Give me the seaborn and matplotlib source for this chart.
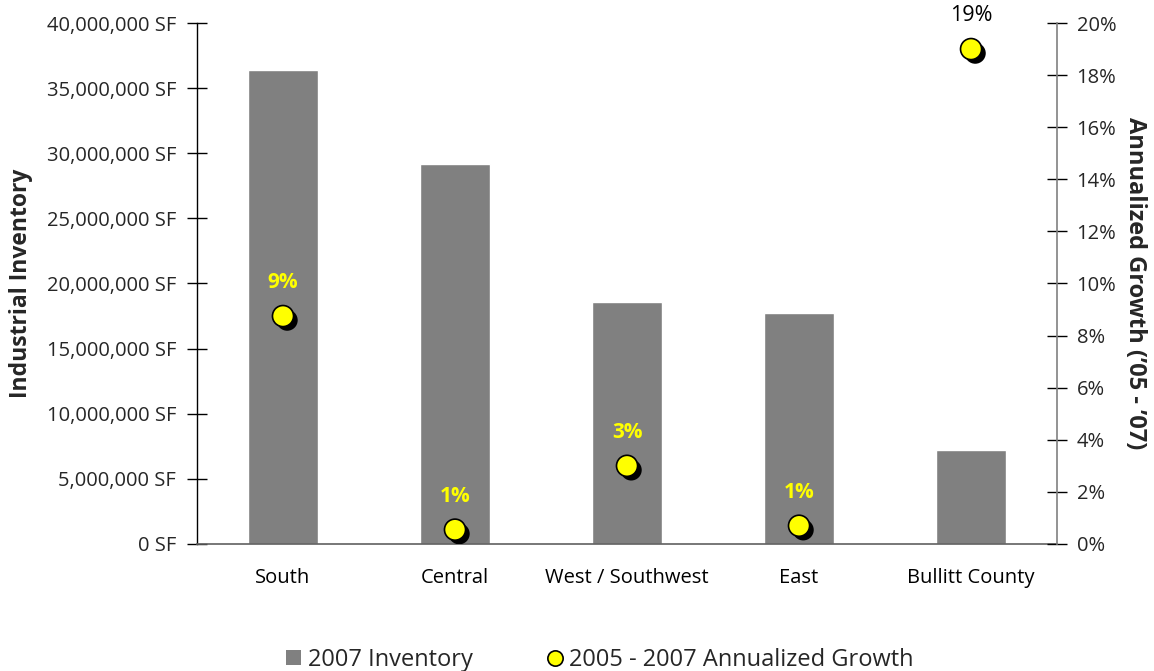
import matplotlib
matplotlib.use("Agg")
import matplotlib.pyplot as plt
import matplotlib.patheffects as pe
from matplotlib.ticker import FuncFormatter, MultipleLocator, FixedLocator
from matplotlib.lines import Line2D
from matplotlib.patches import Patch
import seaborn as sns
import pandas as pd
import numpy as np

# Submarket data
submarkets = ["South", "Central", "West / Southwest", "East", "Bullitt County"]
inventory_2007 = [36_400_000, 29_150_000, 18_600_000, 17_750_000, 7_250_000]
annual_growth = [8.75, 0.55, 3.0, 0.7, 19.0]
growth_labels = ["9%", "1%", "3%", "1%", "19%"]

sns.set_theme(style="white")
plt.rcParams["font.family"] = ["Open Sans", "DejaVu Sans"]

df = pd.DataFrame({"Submarket": submarkets,
                   "Inventory": inventory_2007,
                   "Growth": annual_growth})

fig = plt.figure(figsize=(11.54, 6.71), dpi=100)
ax = fig.add_axes([0.1707, 0.1893, 0.7453, 0.7764])

sns.barplot(data=df, x="Submarket", y="Inventory", color="#808080",
            saturation=1, width=0.41, ax=ax, order=submarkets)
ax.set_ylim(0, 40_000_000)
ax.set_xlim(-0.5, 4.5)
ax.yaxis.set_major_locator(MultipleLocator(5_000_000))
ax.yaxis.set_major_formatter(FuncFormatter(lambda v, p: f"{v:,.0f} SF"))
ax.set_xlabel("")
ax.set_ylabel("Industrial Inventory", fontsize=16.5, fontweight="bold", va="center")
ax.yaxis.set_label_coords(-0.2047, 0.5)

# category separators on the x axis
ax.xaxis.set_minor_locator(FixedLocator(np.arange(-0.5, 5, 1.0)))
ax.tick_params(axis="x", which="major", length=0, pad=17, labelsize=14.5, colors="black")
ax.tick_params(axis="x", which="minor", direction="inout", length=14, width=1, color="black")
ax.tick_params(axis="y", direction="inout", length=14, width=1, color="black",
               labelsize=14.5, left=True, pad=8)

for side in ["top", "right"]:
    ax.spines[side].set_visible(False)
ax.spines["left"].set_color("black")
ax.spines["bottom"].set_color("#606060")
ax.spines["left"].set_linewidth(1)
ax.spines["bottom"].set_linewidth(1.2)

ax2 = ax.twinx()
shadow = [pe.SimplePatchShadow(offset=(3, -3), shadow_rgbFace="black", alpha=1.0),
          pe.Normal()]
sns.scatterplot(data=df, x="Submarket", y="Growth", ax=ax2, s=230,
                color="#ffff00", edgecolor="black", linewidth=1.2, zorder=5,
                legend=False)
for coll in ax2.collections:
    coll.set_path_effects(shadow)
ax2.set_ylim(0, 20)
ax2.set_xlim(-0.5, 4.5)
ax2.yaxis.set_major_locator(MultipleLocator(2))
ax2.yaxis.set_major_formatter(FuncFormatter(lambda v, p: f"{v:.0f}%"))
ax2.set_ylabel("Annualized Growth (\u201905 - \u201907)", fontsize=17, fontweight="bold",
               rotation=-90, va="center")
ax2.yaxis.set_label_coords(1.0907, 0.5)
ax2.tick_params(axis="y", direction="inout", length=14, width=1, color="black",
                labelsize=14.5, right=True, pad=7)
for side in ["top", "left", "bottom"]:
    ax2.spines[side].set_visible(False)
ax2.spines["right"].set_color("#808080")
ax2.spines["right"].set_linewidth(1.2)

for i, (g, lab) in enumerate(zip(annual_growth, growth_labels)):
    on_bar = inventory_2007[i] / 40_000_000 * 20 > g
    ax2.annotate(lab, (i, g), xytext=(0, 24), textcoords="offset points",
                 ha="center", va="center",
                 fontsize=15 if on_bar else 15.5,
                 color="#ffff00" if on_bar else "black",
                 fontweight="bold" if on_bar else "normal", zorder=6)

handles = [Patch(facecolor="#808080", edgecolor="none", label="2007 Inventory"),
           Line2D([], [], marker="o", linestyle="none", markersize=11,
                  markerfacecolor="#ffff00", markeredgecolor="black",
                  markeredgewidth=1.2, label="2005 - 2007 Annualized Growth")]
fig.legend(handles=handles, loc="lower center", bbox_to_anchor=(0.52, -0.033),
           ncol=2, frameon=False, fontsize=17, handlelength=0.6, handleheight=0.6,
           handletextpad=0.3, columnspacing=3.2)

fig.savefig("out.png", dpi=100)
